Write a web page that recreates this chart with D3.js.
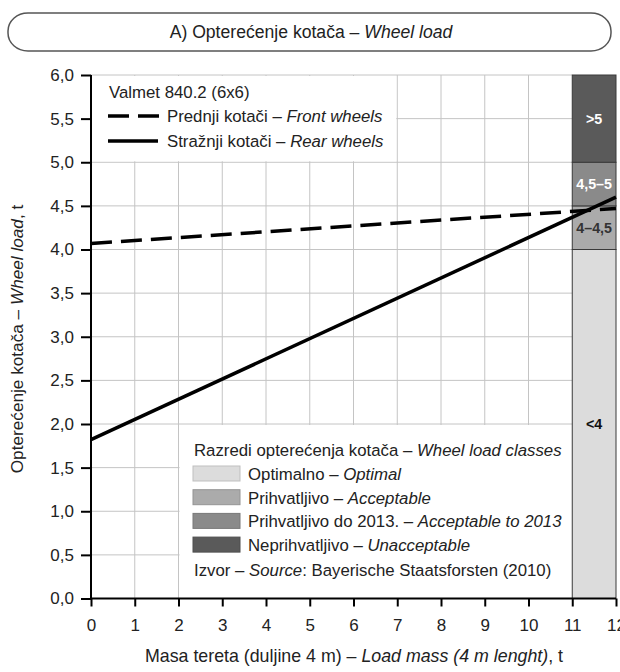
<!DOCTYPE html>
<html><head><meta charset="utf-8">
<script src="https://cdn.jsdelivr.net/npm/d3@7/dist/d3.min.js"></script>
<style>
html,body{margin:0;padding:0;background:#fff;}
svg{display:block;font-family:"Liberation Sans",Arial,sans-serif;}
</style></head>
<body><svg id="c" width="620" height="672"></svg>
<script>
// ---- data ----
const loadMass = [0, 12];
const frontWheels = [4.07, 4.47];
const rearWheels = [1.82, 4.60];
const xTicks = [0,1,2,3,4,5,6,7,8,9,10,11,12];
const yTicks = [0,0.5,1,1.5,2,2.5,3,3.5,4,4.5,5,5.5,6];
const classLow = [0, 4, 4.5, 5];
const classHigh = [4, 4.5, 5, 6];
const classLabels = ["<4", "4–4,5", "4,5–5", ">5"];
const classColors = ["#dcdcdc", "#ababab", "#8a8a8a", "#5a5a5a"];
const classLabelColors = ["#111", "#333", "#fff", "#fff"];
const legendNames = ["Optimalno – ", "Prihvatljivo – ", "Prihvatljivo do 2013. – ", "Neprihvatljivo – "];
const legendNamesEn = ["Optimal", "Acceptable", "Acceptable to 2013", "Unacceptable"];

const svg = d3.select("#c");
const x = d3.scaleLinear().domain([0,12]).range([91,616]);
const y = d3.scaleLinear().domain([0,6]).range([598.5,75]);
const txt = "#222";
const fs = 16.8;

// title box
svg.append("rect").attr("x",8).attr("y",13).attr("width",603).attr("height",38)
  .attr("rx",20).attr("ry",18).attr("fill","#fff").attr("stroke","#555").attr("stroke-width",1.5);
const tt = svg.append("text").attr("x",311).attr("y",38).attr("text-anchor","middle")
  .attr("font-size",17.6).attr("fill",txt);
tt.append("tspan").text("A) Opterećenje kotača – ");
tt.append("tspan").attr("font-style","italic").text("Wheel load");

// grid
const g = svg.append("g");
g.selectAll(".vg").data(xTicks.filter(d=>d>0 && d<11)).join("line")
  .attr("x1",d=>x(d)).attr("x2",d=>x(d)).attr("y1",y(0)).attr("y2",y(6))
  .attr("stroke","#c4c4c4").attr("stroke-width",1);
g.selectAll(".hg").data(yTicks.filter(d=>d>0)).join("line")
  .attr("x1",x(0)).attr("x2",x(11)).attr("y1",d=>y(d)).attr("y2",d=>y(d))
  .attr("stroke","#c4c4c4").attr("stroke-width",1);

// legend backgrounds
svg.append("rect").attr("x",x(0)+1).attr("y",y(6)+1).attr("width",x(7)-x(0)-2).attr("height",y(5)-y(6)-2).attr("fill","#fff");
svg.append("rect").attr("x",x(2)+1).attr("y",y(2)+1).attr("width",x(11)-x(2)-1).attr("height",y(0)-y(2)-1).attr("fill","#fff");

// class bands
svg.selectAll(".band").data(classLow).join("rect")
  .attr("x",x(11)).attr("width",x(12)-x(11))
  .attr("y",(d,i)=>y(classHigh[i])).attr("height",(d,i)=>y(d)-y(classHigh[i]))
  .attr("fill",(d,i)=>classColors[i]).attr("stroke","#3a3a3a").attr("stroke-width",1);
svg.selectAll(".blab").data(classLabels).join("text")
  .attr("x",(x(11)+x(12))/2).attr("y",(d,i)=>y((classLow[i]+classHigh[i])/2)+5)
  .attr("text-anchor","middle").attr("font-size",14.3).attr("font-weight","bold")
  .attr("fill",(d,i)=>classLabelColors[i]).text(d=>d);

// lines
const line = d3.line().x(d=>x(d[0])).y(d=>y(d[1]));
svg.append("path").datum(loadMass.map((m,i)=>[m,frontWheels[i]])).attr("d",line)
  .attr("fill","none").attr("stroke","#000").attr("stroke-width",3.5).attr("stroke-dasharray","21,9");
svg.append("path").datum(loadMass.map((m,i)=>[m,rearWheels[i]])).attr("d",line)
  .attr("fill","none").attr("stroke","#000").attr("stroke-width",3.5);

// axes
const yAx = svg.append("g").attr("transform",`translate(${x(0)},0)`)
  .call(d3.axisLeft(y).tickValues(yTicks).tickSize(10).tickPadding(7).tickFormat(d=>d.toFixed(1).replace(".",",")));
const xAx = svg.append("g").attr("transform",`translate(0,${y(0)})`)
  .call(d3.axisBottom(x).tickValues(xTicks).tickSize(8).tickPadding(12).tickFormat(d=>d));
[yAx,xAx].forEach(a=>{
  a.select(".domain").attr("stroke","#000").attr("stroke-width",2);
  a.selectAll(".tick line").attr("stroke","#000").attr("stroke-width",2);
  a.selectAll(".tick text").attr("font-size",17).attr("fill",txt).attr("font-family","Liberation Sans, Arial, sans-serif");
});
yAx.select(".domain").attr("d",`M0,${y(0)}V${y(6)}`);
xAx.select(".domain").attr("d",`M${x(0)},0H${x(12)}`);

// axis titles
const xt = svg.append("text").attr("x",354).attr("y",662).attr("text-anchor","middle").attr("font-size",17.8).attr("fill",txt);
xt.append("tspan").text("Masa tereta (duljine 4 m) – ");
xt.append("tspan").attr("font-style","italic").text("Load mass (4 m lenght)");
xt.append("tspan").text(", t");
const yt = svg.append("text").attr("transform","translate(23,339) rotate(-90)").attr("text-anchor","middle").attr("font-size",17.2).attr("fill",txt);
yt.append("tspan").text("Opterećenje kotača – ");
yt.append("tspan").attr("font-style","italic").text("Wheel load");
yt.append("tspan").text(", t");

// top legend
svg.append("text").attr("x",109).attr("y",98).attr("font-size",fs).attr("fill",txt).text("Valmet 840.2 (6x6)");
svg.append("line").attr("x1",108).attr("x2",160).attr("y1",116).attr("y2",116).attr("stroke","#000").attr("stroke-width",3.5).attr("stroke-dasharray","21,9");
svg.append("line").attr("x1",108).attr("x2",158).attr("y1",141).attr("y2",141).attr("stroke","#000").attr("stroke-width",3.5);
const l1 = svg.append("text").attr("x",167).attr("y",122).attr("font-size",fs).attr("fill",txt);
l1.append("tspan").text("Prednji kotači – "); l1.append("tspan").attr("font-style","italic").text("Front wheels");
const l2 = svg.append("text").attr("x",167).attr("y",147).attr("font-size",fs).attr("fill",txt);
l2.append("tspan").text("Stražnji kotači – "); l2.append("tspan").attr("font-style","italic").text("Rear wheels");

// bottom legend
const lt = svg.append("text").attr("x",194).attr("y",456).attr("font-size",fs).attr("fill",txt);
lt.append("tspan").text("Razredi opterećenja kotača – "); lt.append("tspan").attr("font-style","italic").text("Wheel load classes");
const lg = svg.selectAll(".lg").data(legendNames).join("g").attr("transform",(d,i)=>`translate(193,${466+i*23.7})`);
lg.append("rect").attr("width",47).attr("height",15).attr("fill",(d,i)=>classColors[i]).attr("stroke",(d,i)=>d3.color(classColors[i]).darker(0.4)).attr("stroke-width",1);
const lgt = lg.append("text").attr("x",55).attr("y",14).attr("font-size",fs).attr("fill",txt);
lgt.append("tspan").text(d=>d);
lgt.append("tspan").attr("font-style","italic").text((d,i)=>legendNamesEn[i]);
const src = svg.append("text").attr("x",194).attr("y",576).attr("font-size",fs).attr("fill",txt);
src.append("tspan").text("Izvor – "); src.append("tspan").attr("font-style","italic").text("Source");
src.append("tspan").text(": Bayerische Staatsforsten (2010)");
</script></body></html>
